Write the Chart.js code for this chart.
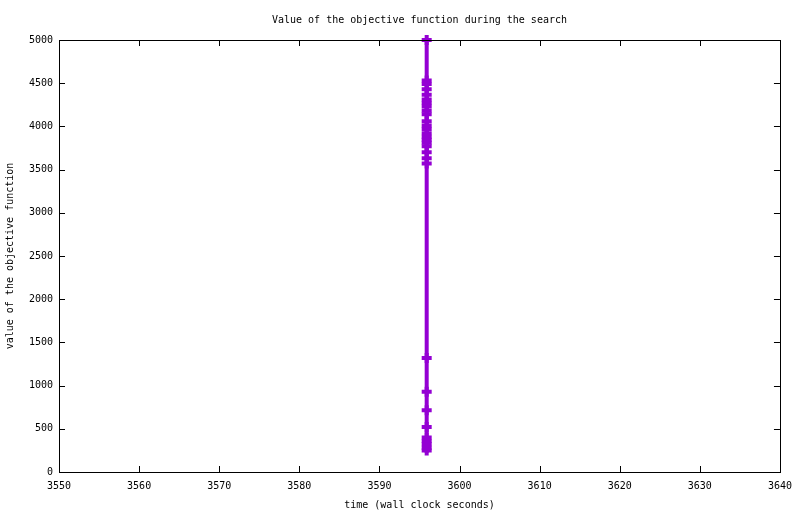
<!DOCTYPE html>
<html>
<head>
<meta charset="utf-8">
<script src="https://cdn.jsdelivr.net/npm/chart.js@4/dist/chart.umd.min.js"></script>
<style>
html,body{margin:0;padding:0;background:#fff;}
#wrap{width:800px;height:514px;position:relative;}
</style>
</head>
<body>
<div id="wrap"><canvas id="c" width="800" height="514"></canvas></div>
<script>
// Data
const times = [3595.9, 3595.9, 3595.9, 3595.9, 3595.9, 3595.9, 3595.9, 3595.9, 3595.9, 3595.9,
               3595.9, 3595.9, 3595.9, 3595.9, 3595.9, 3595.9, 3595.9, 3595.9, 3595.9, 3595.9,
               3595.9, 3595.9, 3595.9, 3595.9, 3595.9, 3595.9, 3595.9, 3595.9, 3595.9, 3595.9];
const objective = [5000, 4530, 4490, 4430, 4365, 4310, 4270, 4230, 4180, 4140,
                   4060, 4010, 3970, 3920, 3880, 3845, 3810, 3770, 3700, 3630,
                   3570, 1320, 930, 715, 520, 400, 360, 320, 280, 250];
const titleText = "Value of the objective function during the search";
const xTitle = "time (wall clock seconds)";
const yTitle = "value of the objective function";
const xRange = [3550, 3640];
const yRange = [0, 5000];
const xStep = 10;
const yStep = 500;

const FONT = "'DejaVu Sans Mono', 'Liberation Mono', monospace";

const boxTicks = {
  id: 'boxTicks',
  afterDatasetsDraw(chart) {
    const ctx = chart.ctx;
    const a = chart.chartArea;
    const xs = chart.scales.x, ys = chart.scales.y;
    const L = 6;
    ctx.save();
    ctx.strokeStyle = '#000';
    ctx.lineWidth = 1;
    ctx.beginPath();
    xs.ticks.forEach(t => {
      const px = Math.round(xs.getPixelForValue(t.value)) + 0.5;
      ctx.moveTo(px, a.bottom); ctx.lineTo(px, a.bottom - L);
      ctx.moveTo(px, a.top); ctx.lineTo(px, a.top + L);
    });
    ys.ticks.forEach(t => {
      const py = Math.round(ys.getPixelForValue(t.value)) + 0.5;
      ctx.moveTo(a.left, py); ctx.lineTo(a.left + L, py);
      ctx.moveTo(a.right, py); ctx.lineTo(a.right - L, py);
    });
    ctx.stroke();
    ctx.strokeRect(Math.round(a.left) + 0.5, Math.round(a.top) + 0.5,
                   Math.round(a.right - a.left), Math.round(a.bottom - a.top));
    ctx.restore();
  }
};

new Chart(document.getElementById('c'), {
  type: 'scatter',
  data: {
    datasets: [{
      data: times.map((t, i) => ({x: t, y: objective[i]})),
      showLine: true,
      borderColor: '#9400d3',
      backgroundColor: '#9400d3',
      borderWidth: 4,
      pointStyle: 'cross',
      pointRadius: 5,
      pointBorderWidth: 4,
      pointHoverRadius: 5,
      clip: false
    }]
  },
  options: {
    responsive: false,
    animation: false,
    devicePixelRatio: 1,
    layout: {padding: {left: 0, right: 19, top: 0, bottom: 0}},
    plugins: {
      legend: {display: false},
      tooltip: {enabled: false},
      title: {
        display: true,
        fullSize: false,
        text: titleText,
        color: '#000',
        font: {family: FONT, size: 10, weight: 'normal', lineHeight: 1.2},
        padding: {top: 14, bottom: 14}
      }
    },
    scales: {
      x: {
        type: 'linear',
        min: xRange[0], max: xRange[1],
        grid: {display: false, drawTicks: false},
        border: {display: false},
        ticks: {stepSize: xStep, color: '#000', padding: 8,
                font: {family: FONT, size: 10}, maxRotation: 0,
                callback: v => String(v)},
        title: {display: true, text: xTitle, color: '#000',
                font: {family: FONT, size: 10}, padding: {top: 0, bottom: 3}},
        afterFit(s) { s.height = 42; }
      },
      y: {
        type: 'linear',
        min: yRange[0], max: yRange[1],
        grid: {display: false, drawTicks: false},
        border: {display: false},
        ticks: {stepSize: yStep, color: '#000', padding: 6,
                font: {family: FONT, size: 10},
                callback: v => String(v)},
        title: {display: true, text: yTitle, color: '#000',
                font: {family: FONT, size: 10}, padding: {top: 4, bottom: 0}},
        afterFit(s) { s.width = 59; }
      }
    }
  },
  plugins: [boxTicks]
});
</script>
</body>
</html>
